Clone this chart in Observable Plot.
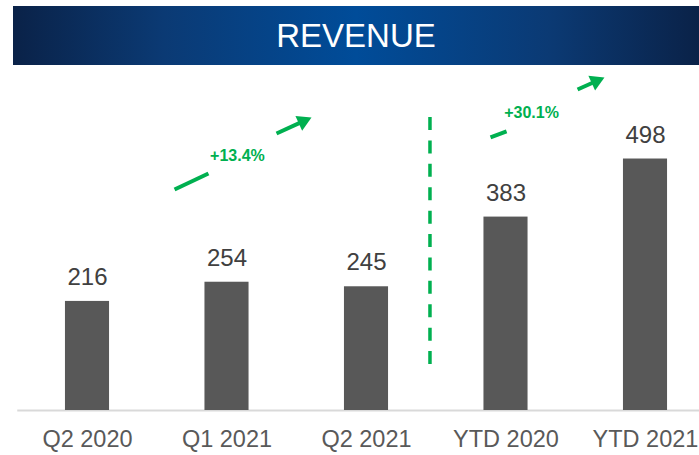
<!DOCTYPE html>
<html>
<head>
<meta charset="utf-8">
<script src="https://cdn.jsdelivr.net/npm/d3@7"></script>
<script src="https://cdn.jsdelivr.net/npm/@observablehq/plot@0.6"></script>
<style>
  html, body { margin: 0; padding: 0; background: #fff; overflow: hidden; }
  body { width: 699px; height: 455px; font-family: "Liberation Sans", Arial, sans-serif; }
  #head { height: 65px; position: relative; }
  #band {
    position: absolute; left: 13px; top: 6px; width: 686px; height: 59px;
    background: linear-gradient(90deg, #0a2248 0%, #0b3a74 22%, #004c99 50%, #0b3a74 78%, #0a2248 100%);
    color: #fff; font-size: 33px; display: flex; align-items: center; justify-content: center;
  }
  #chart svg { display: block; }
</style>
</head>
<body>
<div id="head"><div id="band">REVENUE</div></div>
<div id="chart"></div>
<script>
// Data
const categories = ["Q2 2020", "Q1 2021", "Q2 2021", "YTD 2020", "YTD 2021"];
const revenue = [216, 254, 245, 383, 498];

// Growth annotations (data units: x = category index, y = revenue value)
const growthText = ["+13.4%", "+30.1%"];
const growthX = [1.075, 3.183];
const growthY = [505, 590];
const tailStartX = [0.624, 2.889];
const tailStartY = [437.6, 540.6];
const tailEndX = [0.867, 3.004];
const tailEndY = [469.3, 552.5];
const headStartX = [1.355, 3.513];
const headStartY = [548.5, 635.6];
const headTipX = [1.545, 3.645];
const headTipY = [572.5, 651.9];

// Divider between quarterly and YTD
const dividerX = [2.455];
const dividerY1 = [91];
const dividerY2 = [580];

const bars = categories.map((c, i) => ({i, category: c, value: revenue[i]}));
const growth = growthText.map((t, k) => ({
  text: t, x: growthX[k], y: growthY[k],
  tx1: tailStartX[k], ty1: tailStartY[k], tx2: tailEndX[k], ty2: tailEndY[k],
  hx1: headStartX[k], hy1: headStartY[k], hx2: headTipX[k], hy2: headTipY[k]
}));
const divider = dividerX.map((x, k) => ({x, y1: dividerY1[k], y2: dividerY2[k]}));

const green = "#00b050";
const half = 0.158;

const chart = Plot.plot({
  width: 699,
  height: 390,
  marginLeft: 87,
  marginRight: 54,
  marginTop: 42,
  marginBottom: 45,
  style: {fontFamily: "'Liberation Sans', Arial, sans-serif", color: "#595959", background: "transparent"},
  x: {domain: [0, categories.length - 1]},
  y: {domain: [0, 600], axis: null},
  marks: [
    Plot.ruleY([0], {x1: -0.5, x2: 4.4, stroke: "#d9d9d9", strokeWidth: 2}),
    Plot.rectY(bars, {x1: d => d.i - half, x2: d => d.i + half, y1: 0, y2: "value", fill: "#585858"}),
    Plot.text(bars, {x: "i", y: "value", text: d => String(d.value), dy: -24, fontSize: 24, fill: "#404040"}),
    Plot.axisX({ticks: d3.range(categories.length), tickFormat: i => categories[i], tickSize: 0, tickPadding: 20, fontSize: 23.5}),
    Plot.ruleX(divider, {x: "x", y1: "y1", y2: "y2", stroke: green, strokeWidth: 3.5, strokeDasharray: "13,10.4"}),
    Plot.link(growth, {x1: "tx1", y1: "ty1", x2: "tx2", y2: "ty2", stroke: green, strokeWidth: 4}),
    Plot.link(growth, {x1: "hx1", y1: "hy1", x2: "hx2", y2: "hy2", stroke: green, strokeWidth: 4}),
    Plot.dot(growth, {x: "hx2", y: "hy2", symbol: "triangle", r: 6, fill: green, rotate: 65.5}),
    Plot.text(growth, {x: "x", y: "y", text: "text", fontSize: 16, fontWeight: "bold", fill: green})
  ]
});
document.getElementById("chart").appendChild(chart);
</script>
</body>
</html>
